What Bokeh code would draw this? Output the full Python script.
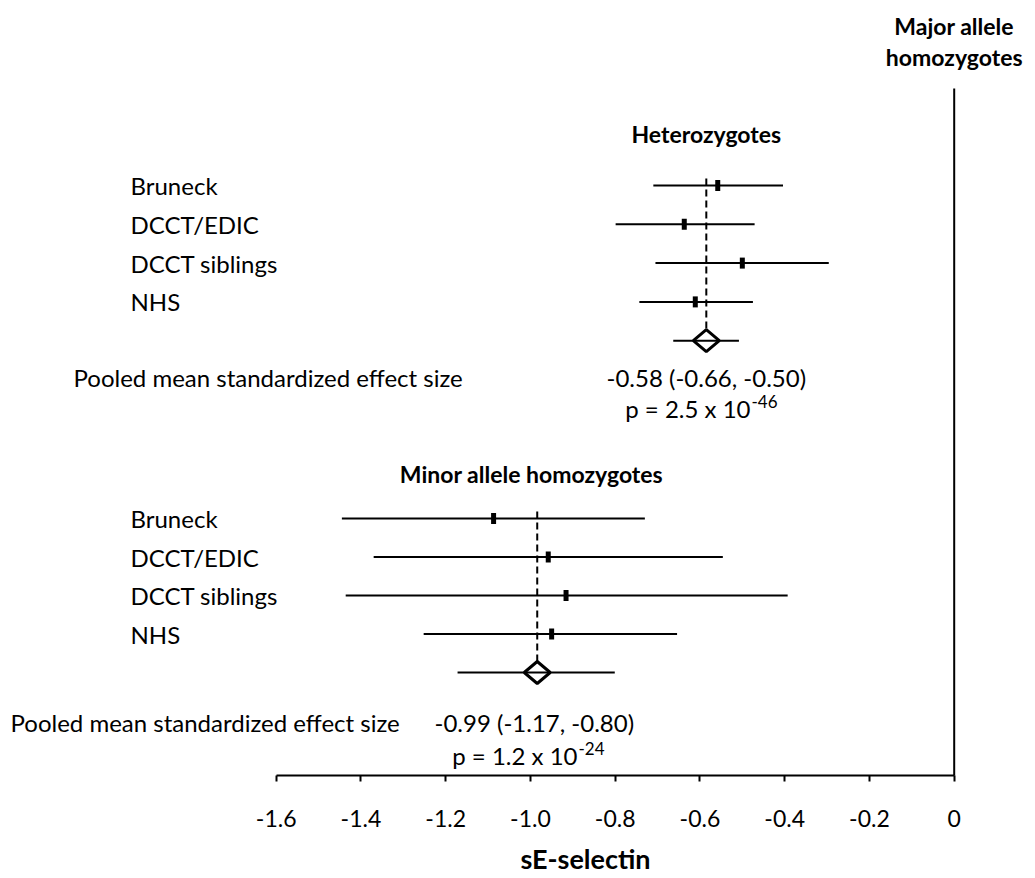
from bokeh.plotting import figure
from bokeh.models import Range1d, LinearAxis, FixedTicker, CustomJSTickFormatter
from bokeh.core.properties import value
from bokeh.embed import file_html
from bokeh.resources import INLINE

# ---------------- data ----------------
studies = ["Bruneck", "DCCT/EDIC", "DCCT siblings", "NHS"]

het_est = [-0.558, -0.637, -0.500, -0.611]
het_lo = [-0.710, -0.799, -0.705, -0.743]
het_hi = [-0.404, -0.471, -0.296, -0.475]
het_pooled = [-0.585, -0.663, -0.508]   # estimate, lower, upper
het_pooled_text = "-0.58 (-0.66, -0.50)"
het_p_base = "p = 2.5 x 10"
het_p_exp = "-46"

hom_est = [-1.087, -0.958, -0.916, -0.950]
hom_lo = [-1.445, -1.370, -1.436, -1.252]
hom_hi = [-0.730, -0.546, -0.393, -0.654]
hom_pooled = [-0.984, -1.172, -0.801]
hom_pooled_text = "-0.99 (-1.17, -0.80)"
hom_p_base = "p = 1.2 x 10"
hom_p_exp = "-24"

tick_values = [-1.6, -1.4, -1.2, -1.0, -0.8, -0.6, -0.4, -0.2, 0.0]
x_title = "sE-selectin"
pooled_label = "Pooled mean standardized effect size"

# ---------------- layout ----------------
W, H = 1035, 878
X0_PX, UNIT_PX = 953.7, 423.75          # pixel of x=0 and pixels per unit


def xd(px):
    return (px - X0_PX) / UNIT_PX


FONT = value("Lato")
p = figure(width=W, height=H, x_range=Range1d(xd(0), xd(W)), y_range=Range1d(H, 0),
           toolbar_location=None, output_backend="svg", min_border=0,
           x_axis_type=None, y_axis_type=None)
p.outline_line_color = None
p.background_fill_color = "white"
p.border_fill_color = "white"

AXIS_Y = 775
axis = LinearAxis(fixed_location=AXIS_Y, bounds=(-1.6, 0.0),
                  ticker=FixedTicker(ticks=tick_values),
                  formatter=CustomJSTickFormatter(code="return tick == 0 ? '0' : tick.toFixed(1);"))
axis.axis_line_width = 2
axis.axis_line_color = "black"
axis.major_tick_line_width = 2
axis.major_tick_line_color = "black"
axis.major_tick_in = 0
axis.major_tick_out = 6
axis.minor_tick_line_color = None
axis.major_label_text_font = "Lato"
axis.major_label_text_font_size = "23px"
axis.major_label_text_color = "black"
axis.major_label_standoff = 28
p.add_layout(axis, "below")

# reference line at 0 (major allele homozygotes)
p.segment(x0=[0.0], y0=[88], x1=[0.0], y1=[AXIS_Y], line_color="black", line_width=2)

LABEL_SIZE = "24px"


def forest(est, lo, hi, pooled, y0, step):
    ys = [y0 + i * step for i in range(len(est))]
    yp = y0 + len(est) * step
    p.segment(x0=lo, y0=ys, x1=hi, y1=ys, line_color="black", line_width=2)
    p.rect(x=est, y=ys, width=5, height=11, width_units="screen", height_units="screen",
           fill_color="black", line_color=None)
    # dashed line at pooled estimate
    p.segment(x0=[pooled[0]], y0=[y0 - 7], x1=[pooled[0]], y1=[yp - 11],
              line_color="black", line_width=2, line_dash="7 4")
    # pooled CI
    p.segment(x0=[pooled[1]], y0=[yp], x1=[pooled[2]], y1=[yp], line_color="black", line_width=2)
    hw = 13 / UNIT_PX
    p.patch(x=[pooled[0] - hw, pooled[0], pooled[0] + hw, pooled[0]],
            y=[yp, yp - 11, yp, yp + 11], fill_color="white", fill_alpha=0.0,
            line_color="black", line_width=3)
    p.text(x=[xd(130)] * len(studies), y=ys, text=studies, text_font=FONT,
           text_font_size=LABEL_SIZE, text_baseline="middle", text_align="left", text_color="black")
    return yp


forest(het_est, het_lo, het_hi, het_pooled, 185, 38.8)
forest(hom_est, hom_lo, hom_hi, hom_pooled, 518, 38.5)


def txt(x, y, s, size=LABEL_SIZE, bold=False, align="left"):
    p.text(x=[x], y=[y], text=[s], text_font=FONT, text_font_size=size,
           text_font_style="bold" if bold else "normal", text_baseline="middle",
           text_align=align, text_color="black")


# titles
txt(0.0, 25, "Major allele", "23px", True, "center")
txt(0.0, 56, "homozygotes", "23px", True, "center")
txt(het_pooled[0], 133, "Heterozygotes", "23px", True, "center")
txt(xd(531), 473, "Minor allele homozygotes", "23px", True, "center")

# pooled summary texts
txt(xd(73), 377, pooled_label)
txt(het_pooled[0], 377, het_pooled_text, align="center")
txt(xd(750), 408, het_p_base, align="right")
txt(xd(751), 401, het_p_exp, "17px")

txt(xd(10), 722, pooled_label)
txt(xd(434), 722, hom_pooled_text)
txt(xd(577), 755, hom_p_base, align="right")
txt(xd(578), 748, hom_p_exp, "17px")

txt(xd(585), 858, x_title, "27px", True, "center")

open("out.html", "w").write(file_html(p, INLINE))
